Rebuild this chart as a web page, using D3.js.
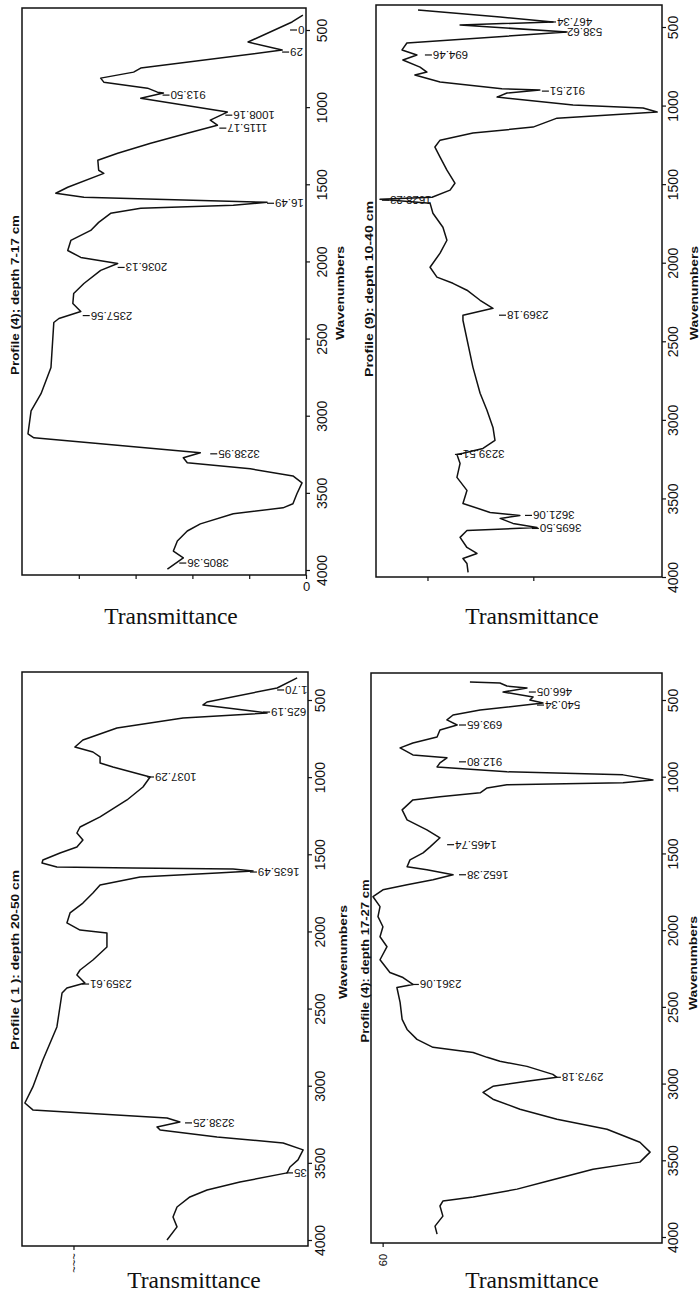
<!DOCTYPE html>
<html><head><meta charset="utf-8">
<script src="https://cdn.jsdelivr.net/npm/d3@7"></script>
<style>body{margin:0;background:#fff} svg{display:block}</style>
</head><body>
<svg id="chart" width="699" height="1303"></svg>
<script>
// ---------- DATA ----------
const wavenumberTicks = [500, 1000, 1500, 2000, 2500, 3000, 3500, 4000];
const wavenumberTickLabels = ["500", "1000", "1500", "2000", "2500", "3000", "3500", "4000"];

const panelTitles = ["Profile (4); depth 7-17 cm", "Profile (9): depth 10-40 cm", "Profile ( 1 ): depth 20-50 cm", "Profile (4): depth 17-27 cm"];
const wavenumberAxisTitle = "Wavenumbers";
const transmittanceAxisTitle = "Transmittance";

// Panel 1: Profile (4), 7-17 cm
const p1Wavenumber = [403,448,578,630,747,773,812,838,877,903,909,942,1032,1084,1117,1169,1234,1299,1344,1409,1429,1519,1558,1584,1617,1636,1656,1688,1747,1799,1864,1929,1974,2013,2058,2143,2208,2273,2325,2370,2396,2688,2857,2968,3117,3143,3182,3240,3273,3305,3344,3390,3435,3506,3571,3597,3636,3701,3747,3812,3877,3922,3994];
const p1Transmittance = [1.1,4.9,20.4,8.4,58.2,60.7,72.3,71.2,55.8,52.3,50.2,58.2,27.7,33.7,31.2,41.8,54.7,66.3,73.3,73.0,71.2,83.9,88.1,78.2,13.7,25.6,58.2,68.8,73.0,75.8,82.8,83.9,79.3,66.3,72.3,78.2,81.8,82.1,79.3,87.0,88.8,89.8,93.3,96.8,97.9,95.8,72.3,37.2,43.2,41.8,19.6,4.6,1.4,3.2,4.6,8.1,25.6,37.2,41.8,45.3,46.7,43.2,48.8];
const p1PeakText = ["0","29","913.50","1008.16","1115.17","16.49","2036.13","2357.56","3238.95","3805.36"];
const p1PeakWavenumber = [500,643,922,1052,1136,1623,2039,2351,3247,3955];
const p1PeakTransmittance = [2.8,5.6,47.7,25.6,27.7,10.9,63.5,75.8,30.9,41.8];
const p1TransTicks = [0,20,40,60,80];
const p1TransTickLabels = ["0","","","",""];

// Panel 2: Profile (9), 10-40 cm
const p2Wavenumber = [392,436,468,487,532,602,646,678,710,755,787,806,850,893,901,920,946,997,1016,1041,1080,1137,1175,1220,1264,1328,1411,1494,1538,1583,1596,1621,1685,1774,1857,1939,2029,2092,2131,2175,2239,2290,2334,2366,2666,2831,2939,3048,3131,3182,3213,3220,3277,3366,3449,3532,3589,3608,3627,3659,3685,3704,3748,3812,3850,3882,3914,3971];
const p2Transmittance = [85.3,56.6,38.1,70.6,33.2,89.2,90.9,85.7,90.6,84.6,82.2,86.4,77.6,56.0,42.7,54.2,57.7,31.1,6.6,1.7,36.7,45.1,66.1,77.6,79.4,77.6,75.2,72.4,74.1,80.4,98.6,81.1,80.1,76.6,75.2,77.6,81.1,78.7,73.1,68.2,63.6,59.1,69.6,69.6,66.1,63.6,61.2,59.1,58.4,62.6,69.6,71.7,70.6,71.7,68.2,69.6,60.1,49.7,56.6,52.1,43.7,68.2,70.6,68.2,64.7,69.6,68.2,67.8];
const p2PeakText = ["467.34","538.62","694.46","912.51","1628.23","2369.18","3239.51","3621.06","3695.50"];
const p2PeakWavenumber = [468,532,678,908,1602,2334,3220,3608,3691];
const p2PeakTransmittance = [36.7,33.2,80.1,39.2,95.1,54.2,69.6,45.1,42.7];
const p2TransTicks = [45,82];
const p2TransTickLabels = ["",""];

// Panel 3: Profile (1), 20-50 cm
const p3Wavenumber = [357,422,513,532,584,617,681,759,805,837,869,908,934,999,1064,1148,1258,1323,1362,1407,1453,1492,1537,1556,1582,1589,1595,1608,1621,1647,1699,1751,1816,1880,1945,1991,2010,2101,2185,2250,2282,2334,2367,2399,2619,2833,3008,3112,3157,3209,3235,3267,3287,3332,3371,3416,3481,3527,3565,3624,3676,3721,3786,3851,3915,4000];
const p3Transmittance = [3.8,10.8,35.3,36.7,14.3,43.7,66.8,78.7,81.5,75.2,72.7,72.7,68.2,55.2,57.7,63.3,72.7,79.7,80.8,78.7,80.8,86.7,92.7,93.0,87.8,61.2,26.2,19.2,31.8,58.7,72.7,75.2,78.7,83.2,84.3,79.7,70.3,70.3,75.2,79.7,80.8,78.0,84.3,86.0,87.8,92.7,96.2,99.0,96.2,49.3,44.8,52.8,51.7,31.8,8.7,1.7,3.5,6.3,7.3,23.8,35.3,41.3,45.8,47.2,45.8,49.3];
const p3PeakText = ["1.70","625.19","1037.29","1635.49","2359.61","3238.25","35"];
const p3PeakWavenumber = [435,578,999,1615,2341,3241,3565];
const p3PeakTransmittance = [8.0,12.9,53.5,17.5,76.2,40.2,4.9];
const p3TransTicks = [82];
const p3TransTickLabels = ["~~~"];

// Panel 4: Profile (4), 17-27 cm
const p4Wavenumber = [383,389,409,422,448,480,500,520,565,598,630,663,695,741,780,812,858,877,910,936,968,988,1021,1040,1053,1073,1105,1131,1151,1216,1281,1346,1398,1457,1496,1542,1587,1606,1639,1672,1704,1737,1782,1847,1912,1978,2043,2108,2193,2276,2309,2354,2374,2471,2582,2647,2712,2764,2797,2829,2855,2888,2940,2959,2985,3018,3057,3102,3167,3233,3298,3382,3447,3512,3558,3636,3688,3740,3766,3798,3864,3929,3981];
const p4Transmittance = [66.0,55.7,53.3,46.4,54.6,44.3,45.4,40.9,62.5,71.8,73.9,70.4,76.3,77.3,85.6,90.0,85.6,73.9,76.3,77.3,53.3,13.4,3.1,13.4,53.3,60.1,62.5,76.3,85.6,89.3,87.6,80.8,76.3,79.7,82.1,86.6,87.6,80.8,71.8,78.7,87.6,95.9,99.3,96.9,97.6,95.9,96.9,94.5,96.9,93.5,89.0,85.6,91.1,90.0,89.3,87.6,84.2,78.7,64.9,60.1,55.7,46.4,37.5,36.1,46.4,58.1,61.5,58.1,48.8,36.1,18.9,7.6,4.1,7.6,23.7,39.5,49.8,64.9,75.3,76.3,75.3,78.0,77.3];
const p4PeakText = ["466.05","540.34","693.65","912.80","1465.74","1652.38","2361.06","2973.18"];
const p4PeakWavenumber = [448,533,663,903,1443,1639,2354,2959];
const p4PeakTransmittance = [43.0,40.2,67.0,67.0,71.1,67.0,83.2,34.4];
const p4TransTicks = [96];
const p4TransTickLabels = ["60"];

// ---------- LAYOUT ----------
const SANS = "'Liberation Sans', Arial, sans-serif";
const SERIF = "'Liberation Serif', 'Times New Roman', serif";
const INK = "#111";

const panels = [
  {wn:p1Wavenumber, t:p1Transmittance, pt:p1PeakText, pw:p1PeakWavenumber, pv:p1PeakTransmittance, tt:p1TransTicks, tl:p1TransTickLabels, rotT:false,
   left:22, right:306, top:8, bottom:575, y500:30, y4000:570, tickOff:16, title:panelTitles[0], titleX:15, titleY:295, titleLen:160,
   wX:340, wY:293, transX:171, transY:624},
  {wn:p2Wavenumber, t:p2Transmittance, pt:p2PeakText, pw:p2PeakWavenumber, pv:p2PeakTransmittance, tt:p2TransTicks, tl:p2TransTickLabels, rotT:false,
   left:376, right:662, top:5, bottom:577, y500:27, y4000:577, tickOff:11, title:panelTitles[1], titleX:369, titleY:289, titleLen:176,
   wX:694, wY:293, transX:532, transY:624},
  {wn:p3Wavenumber, t:p3Transmittance, pt:p3PeakText, pw:p3PeakWavenumber, pv:p3PeakTransmittance, tt:p3TransTicks, tl:p3TransTickLabels, rotT:true,
   left:22, right:308, top:672, bottom:1246, y500:700, y4000:1240, tickOff:12, title:panelTitles[2], titleX:15, titleY:960, titleLen:180,
   wX:343, wY:952, transX:194, transY:1288},
  {wn:p4Wavenumber, t:p4Transmittance, pt:p4PeakText, pw:p4PeakWavenumber, pv:p4PeakTransmittance, tt:p4TransTicks, tl:p4TransTickLabels, rotT:true,
   left:371, right:662, top:673, bottom:1243, y500:700, y4000:1237, tickOff:11, title:panelTitles[3], titleX:365, titleY:961, titleLen:163,
   wX:693, wY:963, transX:532, transY:1288}
];

const svg = d3.select("#chart");
svg.append("rect").attr("width",699).attr("height",1303).attr("fill","#fff");

panels.forEach(p => {
  const y = d3.scaleLinear().domain([500, 4000]).range([p.y500, p.y4000]);
  const x = d3.scaleLinear().domain([0, 100]).range([p.right, p.left]);
  const g = svg.append("g");

  // frame
  g.append("rect").attr("x", p.left).attr("y", p.top)
    .attr("width", p.right - p.left).attr("height", p.bottom - p.top)
    .attr("fill", "none").attr("stroke", INK).attr("stroke-width", 1.5);

  // spectrum trace
  const line = d3.line().x(d => x(d[1])).y(d => y(d[0]));
  g.append("path").datum(d3.zip(p.wn, p.t)).attr("d", line)
    .attr("fill", "none").attr("stroke", INK).attr("stroke-width", 1.5)
    .attr("stroke-linejoin", "round");

  // wavenumber axis (right side)
  const ax = g.append("g").attr("transform", `translate(${p.right},0)`)
    .call(d3.axisRight(y).tickValues(wavenumberTicks).tickSize(4)
      .tickFormat((d, i) => wavenumberTickLabels[i]));
  ax.select(".domain").remove();
  ax.selectAll("line").attr("stroke", INK).attr("stroke-width", 1.2);
  ax.selectAll("text").attr("x", null).attr("dy", null)
    .attr("transform", `translate(${p.tickOff},0) rotate(-90)`)
    .attr("text-anchor", "middle").attr("dominant-baseline", "central")
    .attr("fill", INK).style("font-family", SANS).style("font-size", "14px");

  // transmittance axis (bottom)
  const bx = g.append("g").attr("transform", `translate(0,${p.bottom})`)
    .call(d3.axisBottom(x).tickValues(p.tt).tickSize(4).tickFormat((d, i) => p.tl[i]));
  bx.select(".domain").remove();
  bx.selectAll("line").attr("stroke", INK).attr("stroke-width", 1.2);
  bx.selectAll("text").attr("fill", INK).style("font-family", SANS).style("font-size", "13px");
  if (p.rotT) {
    bx.selectAll("text").attr("y", null).attr("dy", null)
      .attr("transform", "translate(0,17) rotate(-90)")
      .attr("text-anchor", "middle").attr("dominant-baseline", "central")
      .style("font-size", "11px");
  }

  // peak labels (upside-down, as in the rotated original)
  const peaks = d3.zip(p.pt, p.pw, p.pv);
  const pg = g.append("g").selectAll("g").data(peaks).join("g")
    .attr("transform", d => `translate(${x(d[2])},${y(d[1])})`);
  pg.append("line").attr("x1", -8).attr("x2", -1).attr("y1", 0).attr("y2", 0)
    .attr("stroke", INK).attr("stroke-width", 1.2);
  pg.append("text").attr("transform", "rotate(180)")
    .attr("text-anchor", "end").attr("dominant-baseline", "central")
    .attr("fill", INK).style("font-family", SANS).style("font-size", "11.5px")
    .text(d => d[0]);

  // panel title (rotated)
  g.append("text").attr("transform", `translate(${p.titleX},${p.titleY}) rotate(-90)`)
    .attr("text-anchor", "middle").attr("dominant-baseline", "central")
    .attr("textLength", p.titleLen).attr("lengthAdjust", "spacingAndGlyphs")
    .attr("fill", INK).style("font-family", SANS).style("font-size", "11px").style("font-weight", "bold")
    .text(p.title);

  // wavenumbers axis title
  g.append("text").attr("transform", `translate(${p.wX},${p.wY}) rotate(-90)`)
    .attr("text-anchor", "middle").attr("dominant-baseline", "central")
    .attr("textLength", 94).attr("lengthAdjust", "spacingAndGlyphs")
    .attr("fill", INK).style("font-family", SANS).style("font-size", "10px").style("font-weight", "bold")
    .text(wavenumberAxisTitle);

  // transmittance axis title
  g.append("text").attr("x", p.transX).attr("y", p.transY)
    .attr("text-anchor", "middle").attr("fill", INK)
    .style("font-family", SERIF).style("font-size", "23.5px")
    .text(transmittanceAxisTitle);
});
</script>
</body></html>
